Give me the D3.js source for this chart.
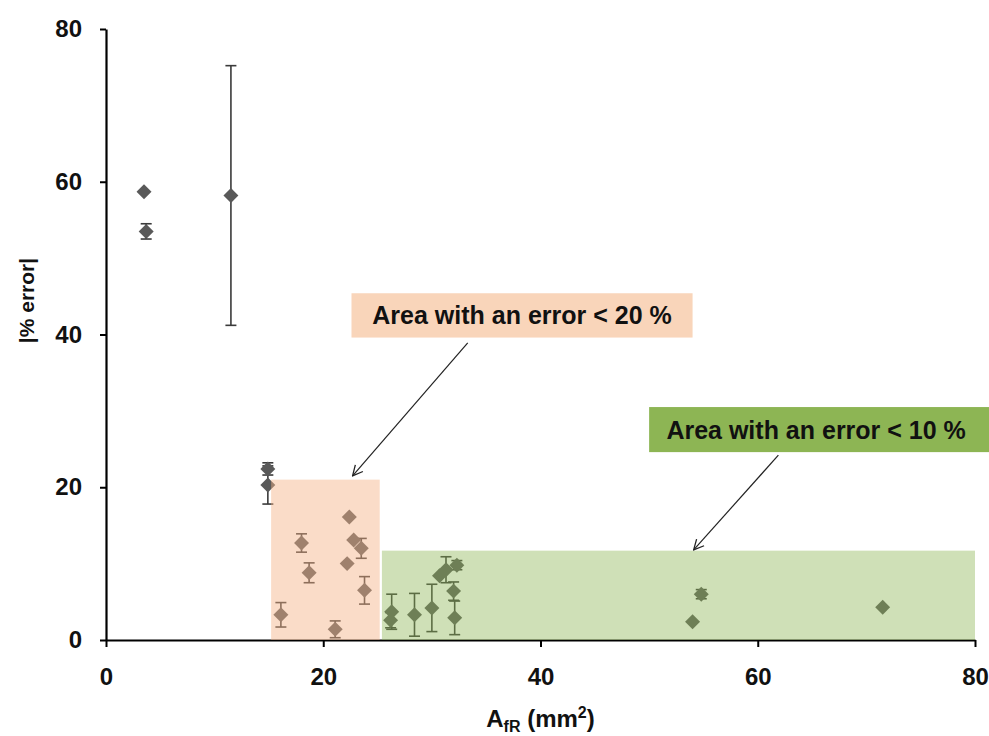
<!DOCTYPE html>
<html>
<head>
<meta charset="utf-8">
<script src="https://cdn.jsdelivr.net/npm/d3@7"></script>
<style>
  body { margin: 0; background: #fff; }
  svg text { font-family: "Liberation Sans", Arial, sans-serif; }
</style>
</head>
<body>
<script>
// values
var afr      = [3.5, 3.7, 11.5, 14.9, 14.9, 16.1, 18.0, 18.7, 21.1, 22.2, 22.4, 22.8, 23.5, 23.8,
                26.3, 26.2, 28.4, 30.0, 30.7, 31.3, 32.3, 32.0, 32.1, 54.0, 54.8, 71.5];
var pctError = [58.7, 53.5, 58.2, 22.4, 20.3, 3.3, 12.7, 8.8, 1.4, 10.0, 16.1, 13.1, 12.0, 6.5,
                3.7, 2.6, 3.3, 4.2, 8.4, 9.2, 9.8, 6.4, 2.9, 2.4, 6.0, 4.3];
var errBar   = [0, 1.0, 17, 0.8, 2.5, 1.6, 1.2, 1.3, 1.1, 0, 0, 0, 1.3, 1.8,
                2.3, 1.0, 2.8, 3.1, 0, 1.7, 0.6, 1.2, 2.2, 0, 0.6, 0];
var xTicks = [0, 20, 40, 60, 80];
var yTicks = [0, 20, 40, 60, 80];

// shaded areas (data units) and their labels
var areaNames  = ["Area with an error < 20 %", "Area with an error < 10 %"];
var areaX      = [[15.2, 25.2], [25.4, 80]];
var areaY      = [21, 11.7];
var labelX     = [[22.6, 54.0], [50.0, 81.3]];
var labelY     = [[45.4, 39.6], [30.5, 24.6]];
var arrowFrom  = [[33.3, 38.9], [61.9, 24.2]];
var arrowTo    = [[22.7, 21.5], [54.1, 11.8]];

var margin = {top: 29, right: 14, bottom: 96, left: 106},
    width = 989 - margin.left - margin.right,
    height = 736 - margin.top - margin.bottom;

var x = d3.scaleLinear().domain([0, 80]).range([0, width]);
var y = d3.scaleLinear().domain([0, 80]).range([height, 0]);

var svg = d3.select("body").append("svg")
    .attr("width", 989)
    .attr("height", 736);

svg.append("defs").append("marker")
    .attr("id", "arrow")
    .attr("viewBox", "0 0 12 12")
    .attr("refX", 11).attr("refY", 6)
    .attr("markerWidth", 12).attr("markerHeight", 12)
    .attr("markerUnits", "userSpaceOnUse")
    .attr("orient", "auto")
  .append("path")
    .attr("d", "M1,1 L11,6 L1,11")
    .attr("fill", "none")
    .attr("stroke", "#222")
    .attr("stroke-width", 1.3);

var g = svg.append("g")
    .attr("transform", "translate(" + margin.left + "," + margin.top + ")");

// axes
var xAxis = g.append("g")
    .attr("transform", "translate(0," + height + ")")
    .call(d3.axisBottom(x).tickValues(xTicks).tickSize(7).tickPadding(21).tickSizeOuter(0));
var yAxis = g.append("g")
    .call(d3.axisLeft(y).tickValues(yTicks).tickSize(6).tickPadding(18).tickSizeOuter(0));

[xAxis, yAxis].forEach(function(a) {
  a.select(".domain").attr("stroke", "#000").attr("stroke-width", 2.2);
  a.selectAll(".tick line").attr("stroke", "#000").attr("stroke-width", 2);
  a.selectAll(".tick text")
    .attr("fill", "#111")
    .style("font-size", "24px")
    .style("font-weight", "bold");
});
xAxis.selectAll(".tick text").attr("dy", "0.71em");

// axis titles
var xt = svg.append("text")
    .attr("x", margin.left + width / 2)
    .attr("y", 727)
    .attr("text-anchor", "middle")
    .attr("fill", "#111")
    .style("font-size", "24px")
    .style("font-weight", "bold");
xt.append("tspan").text("A");
xt.append("tspan").attr("dy", 5).style("font-size", "16px").text("fR");
xt.append("tspan").attr("dy", -5).text(" (mm");
xt.append("tspan").attr("dy", -9).style("font-size", "16px").text("2");
xt.append("tspan").attr("dy", 9).text(")");

svg.append("text")
    .attr("transform", "translate(34," + (margin.top + y(40) - 34) + ") rotate(-90)")
    .attr("text-anchor", "middle")
    .attr("fill", "#111")
    .style("font-size", "21px")
    .style("font-weight", "bold")
    .text("|% error|");

// data
var pts = afr.map(function(v, i) { return {x: v, y: pctError[i], e: errBar[i]}; });

var bars = g.selectAll(".err")
    .data(pts.filter(function(d) { return d.e > 0; }))
    .enter().append("g")
    .attr("class", "err")
    .attr("stroke", "#3a3a3a")
    .attr("stroke-width", 1.6);
bars.append("line")
    .attr("x1", function(d) { return x(d.x); })
    .attr("x2", function(d) { return x(d.x); })
    .attr("y1", function(d) { return y(d.y + d.e); })
    .attr("y2", function(d) { return y(Math.max(0, d.y - d.e)); });
bars.selectAll(".cap")
    .data(function(d) { return [d.y + d.e, Math.max(0, d.y - d.e)].map(function(v) { return {x: d.x, v: v}; }); })
    .enter().append("line")
    .attr("x1", function(d) { return x(d.x) - 5.5; })
    .attr("x2", function(d) { return x(d.x) + 5.5; })
    .attr("y1", function(d) { return y(d.v); })
    .attr("y2", function(d) { return y(d.v); });

g.selectAll(".pt")
    .data(pts)
    .enter().append("path")
    .attr("class", "pt")
    .attr("d", d3.symbol().type(d3.symbolSquare).size(112))
    .attr("transform", function(d) { return "translate(" + x(d.x) + "," + y(d.y) + ") rotate(45)"; })
    .attr("fill", "#595959");

// shaded areas on top (they tint the markers below)
var areaFill  = ["rgba(243,178,132,0.45)", "rgba(141,180,84,0.42)"];
var labelFill = ["#f9d5ba", "#8db554"];

g.selectAll(".area")
    .data(areaNames)
    .enter().append("rect")
    .attr("class", "area")
    .attr("x", function(d, i) { return x(areaX[i][0]); })
    .attr("width", function(d, i) { return x(areaX[i][1]) - x(areaX[i][0]); })
    .attr("y", function(d, i) { return y(areaY[i]); })
    .attr("height", function(d, i) { return y(0) - y(areaY[i]); })
    .attr("fill", function(d, i) { return areaFill[i]; });

g.selectAll(".lbox")
    .data(areaNames)
    .enter().append("rect")
    .attr("class", "lbox")
    .attr("x", function(d, i) { return x(labelX[i][0]); })
    .attr("width", function(d, i) { return x(labelX[i][1]) - x(labelX[i][0]); })
    .attr("y", function(d, i) { return y(labelY[i][0]); })
    .attr("height", function(d, i) { return y(labelY[i][1]) - y(labelY[i][0]); })
    .attr("fill", function(d, i) { return labelFill[i]; });

g.selectAll(".ltxt")
    .data(areaNames)
    .enter().append("text")
    .attr("class", "ltxt")
    .attr("x", function(d, i) { return (x(labelX[i][0]) + x(labelX[i][1])) / 2 - (i ? 3 : 0); })
    .attr("y", function(d, i) { return (y(labelY[i][0]) + y(labelY[i][1])) / 2; })
    .attr("dy", "0.36em")
    .attr("text-anchor", "middle")
    .attr("fill", "#111")
    .style("font-size", "25px")
    .style("font-weight", "bold")
    .text(function(d) { return d; });

g.selectAll(".arr")
    .data(areaNames)
    .enter().append("line")
    .attr("class", "arr")
    .attr("x1", function(d, i) { return x(arrowFrom[i][0]); })
    .attr("y1", function(d, i) { return y(arrowFrom[i][1]); })
    .attr("x2", function(d, i) { return x(arrowTo[i][0]); })
    .attr("y2", function(d, i) { return y(arrowTo[i][1]); })
    .attr("stroke", "#222")
    .attr("stroke-width", 1.2)
    .attr("marker-end", "url(#arrow)");
</script>
</body>
</html>
